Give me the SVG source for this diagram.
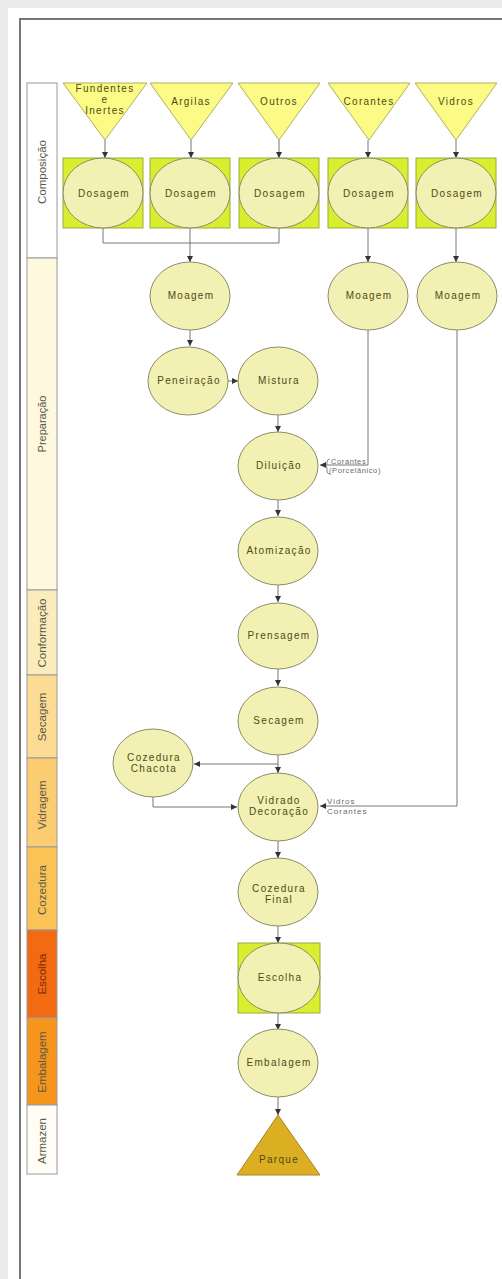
<svg xmlns="http://www.w3.org/2000/svg" width="502" height="1279" viewBox="0 0 502 1279">
  <defs>
    <marker id="arr" viewBox="0 0 6 6" refX="6" refY="3" markerWidth="6" markerHeight="6" orient="auto" markerUnits="userSpaceOnUse">
      <path d="M0,0 L6,3 L0,6 z" fill="#333"/>
    </marker>
  </defs>
  <style>
    .lane{stroke:#9a9a9a;stroke-width:1}
    .lanetxt{font-family:"Liberation Sans",Arial,sans-serif;font-size:11.5px;fill:#5a5a4a;text-anchor:middle}
    .src{fill:#fbfb86;stroke:#b0b060;stroke-width:1}
    .box{fill:#d9ee2e;stroke:#9aaa40;stroke-width:1}
    .proc{fill:#f2f0b2;stroke:#8c8c6a;stroke-width:1}
    .end{fill:#dcae22;stroke:#a8842a;stroke-width:1}
    .lbl{font-family:"Liberation Sans",Arial,sans-serif;font-size:10px;letter-spacing:1.3px;fill:#4c4c16;text-anchor:middle}
    .note{font-family:"Liberation Sans",Arial,sans-serif;font-size:7.5px;letter-spacing:0.6px;fill:#6a6a6a}
    .con{fill:none;stroke:#777;stroke-width:1}
  </style>

  <!-- page background and frame -->
  <rect x="0" y="0" width="502" height="1279" fill="#ececec"/>
  <rect x="8" y="8" width="494" height="1271" fill="#fff"/>
  <path d="M20,1279 V19 H502" fill="none" stroke="#777" stroke-width="2"/>

  <!-- stage lanes -->
  <g id="lanes">
    <rect class="lane" x="27" y="83" width="30" height="175" fill="#ffffff"/>
    <rect class="lane" x="27" y="258" width="30" height="332" fill="#fdf8de"/>
    <rect class="lane" x="27" y="590" width="30" height="85" fill="#fbecbc"/>
    <rect class="lane" x="27" y="675" width="30" height="83" fill="#fcdc94"/>
    <rect class="lane" x="27" y="758" width="30" height="89" fill="#fbcc72"/>
    <rect class="lane" x="27" y="847" width="30" height="83" fill="#f9c455"/>
    <rect class="lane" x="27" y="930" width="30" height="88" fill="#f26b12"/>
    <rect class="lane" x="27" y="1018" width="30" height="87" fill="#f6951c"/>
    <rect class="lane" x="27" y="1105" width="30" height="69" fill="#fffdf6"/>
    <text class="lanetxt" transform="translate(46,172) rotate(-90)">Composição</text>
    <text class="lanetxt" transform="translate(46,424) rotate(-90)" style="font-size:11px">Preparação</text>
    <text class="lanetxt" transform="translate(46,633) rotate(-90)">Conformação</text>
    <text class="lanetxt" transform="translate(46,717) rotate(-90)">Secagem</text>
    <text class="lanetxt" transform="translate(46,805) rotate(-90)">Vidragem</text>
    <text class="lanetxt" transform="translate(46,890) rotate(-90)">Cozedura</text>
    <text class="lanetxt" transform="translate(46,974) rotate(-90)" style="fill:#7a2a08">Escolha</text>
    <text class="lanetxt" transform="translate(46,1062) rotate(-90)">Embalagem</text>
    <text class="lanetxt" transform="translate(46,1141) rotate(-90)">Armazen</text>
  </g>

  <!-- connectors -->
  <g id="connectors">
    <line class="con" x1="105" y1="140" x2="105" y2="158" marker-end="url(#arr)"/>
    <line class="con" x1="191" y1="140" x2="191" y2="158" marker-end="url(#arr)"/>
    <line class="con" x1="279" y1="140" x2="279" y2="158" marker-end="url(#arr)"/>
    <line class="con" x1="368" y1="140" x2="368" y2="158" marker-end="url(#arr)"/>
    <line class="con" x1="456" y1="140" x2="456" y2="158" marker-end="url(#arr)"/>
    <polyline class="con" points="103,228 103,243 279,243 279,228"/>
    <line class="con" x1="190" y1="228" x2="190" y2="262" marker-end="url(#arr)"/>
    <line class="con" x1="368" y1="228" x2="368" y2="262" marker-end="url(#arr)"/>
    <line class="con" x1="456" y1="228" x2="456" y2="262" marker-end="url(#arr)"/>
    <line class="con" x1="190" y1="329" x2="190" y2="346" marker-end="url(#arr)"/>
    <line class="con" x1="228" y1="381" x2="238" y2="381" marker-end="url(#arr)"/>
    <line class="con" x1="278" y1="414" x2="278" y2="432" marker-end="url(#arr)"/>
    <polyline class="con" points="368,329 368,465 320,465" marker-end="url(#arr)"/>
    <line class="con" x1="278" y1="499" x2="278" y2="516" marker-end="url(#arr)"/>
    <line class="con" x1="278" y1="585" x2="278" y2="602" marker-end="url(#arr)"/>
    <line class="con" x1="278" y1="668" x2="278" y2="686" marker-end="url(#arr)"/>
    <line class="con" x1="278" y1="755" x2="278" y2="773" marker-end="url(#arr)"/>
    <polyline class="con" points="278,764 194,764" marker-end="url(#arr)"/>
    <polyline class="con" points="153,797 153,807 237,807" marker-end="url(#arr)"/>
    <polyline class="con" points="457,329 457,806 320,806" marker-end="url(#arr)"/>
    <line class="con" x1="278" y1="840" x2="278" y2="858" marker-end="url(#arr)"/>
    <line class="con" x1="278" y1="926" x2="278" y2="943" marker-end="url(#arr)"/>
    <line class="con" x1="278" y1="1013" x2="278" y2="1030" marker-end="url(#arr)"/>
    <line class="con" x1="278" y1="1097" x2="278" y2="1115" marker-end="url(#arr)"/>
    <path d="M330,459 Q327,459 327,462 L327,464 Q325,466 327,468 L327,471 Q327,474 330,474" fill="none" stroke="#8a86b8" stroke-width="1"/>
    <text class="note" x="331" y="464">Corantes</text>
    <text class="note" x="329" y="473">(Porcelânico)</text>
    <text class="note" x="327" y="804" style="font-size:8px;letter-spacing:1px">Vidros</text>
    <text class="note" x="327" y="814" style="font-size:8px;letter-spacing:1px">Corantes</text>
  </g>

  <!-- raw material sources -->
  <g id="src-fundentes"><polygon class="src" points="63,83 147,83 105,140"/><text class="lbl" x="105" y="92">Fundentes</text><text class="lbl" x="105" y="103">e</text><text class="lbl" x="105" y="114">Inertes</text></g>
  <g id="src-argilas"><polygon class="src" points="150,83 233,83 191,140"/><text class="lbl" x="191" y="105">Argilas</text></g>
  <g id="src-outros"><polygon class="src" points="238,83 320,83 279,140"/><text class="lbl" x="279" y="105">Outros</text></g>
  <g id="src-corantes"><polygon class="src" points="328,83 410,83 369,140"/><text class="lbl" x="369" y="105">Corantes</text></g>
  <g id="src-vidros"><polygon class="src" points="415,83 497,83 456,140"/><text class="lbl" x="456" y="105">Vidros</text></g>

  <!-- dosing -->
  <g id="dos-1"><rect class="box" x="63" y="158" width="80" height="70"/><ellipse class="proc" cx="103" cy="193" rx="40" ry="35"/><text class="lbl" x="104" y="197">Dosagem</text></g>
  <g id="dos-2"><rect class="box" x="150" y="158" width="80" height="70"/><ellipse class="proc" cx="190" cy="193" rx="40" ry="35"/><text class="lbl" x="191" y="197">Dosagem</text></g>
  <g id="dos-3"><rect class="box" x="239" y="158" width="80" height="70"/><ellipse class="proc" cx="279" cy="193" rx="40" ry="35"/><text class="lbl" x="280" y="197">Dosagem</text></g>
  <g id="dos-4"><rect class="box" x="328" y="158" width="80" height="70"/><ellipse class="proc" cx="368" cy="193" rx="40" ry="35"/><text class="lbl" x="369" y="197">Dosagem</text></g>
  <g id="dos-5"><rect class="box" x="416" y="158" width="80" height="70"/><ellipse class="proc" cx="456" cy="193" rx="40" ry="35"/><text class="lbl" x="457" y="197">Dosagem</text></g>

  <!-- preparation -->
  <g id="moagem-1"><ellipse class="proc" cx="190" cy="296" rx="40" ry="34"/><text class="lbl" x="191" y="299">Moagem</text></g>
  <g id="moagem-2"><ellipse class="proc" cx="368" cy="296" rx="40" ry="34"/><text class="lbl" x="369" y="299">Moagem</text></g>
  <g id="moagem-3"><ellipse class="proc" cx="457" cy="296" rx="40" ry="34"/><text class="lbl" x="458" y="299">Moagem</text></g>
  <g id="peneiracao"><ellipse class="proc" cx="188" cy="381" rx="40" ry="34"/><text class="lbl" x="189" y="384">Peneiração</text></g>
  <g id="mistura"><ellipse class="proc" cx="278" cy="381" rx="40" ry="34"/><text class="lbl" x="279" y="384">Mistura</text></g>
  <g id="diluicao"><ellipse class="proc" cx="278" cy="466" rx="40" ry="34"/><text class="lbl" x="279" y="469">Diluição</text></g>
  <g id="atomizacao"><ellipse class="proc" cx="278" cy="551" rx="40" ry="34"/><text class="lbl" x="279" y="554">Atomização</text></g>

  <!-- forming, drying, glazing, firing -->
  <g id="prensagem"><ellipse class="proc" cx="278" cy="636" rx="40" ry="33"/><text class="lbl" x="279" y="639">Prensagem</text></g>
  <g id="secagem"><ellipse class="proc" cx="278" cy="721" rx="40" ry="34"/><text class="lbl" x="279" y="724">Secagem</text></g>
  <g id="chacota"><ellipse class="proc" cx="153" cy="763" rx="40" ry="34"/><text class="lbl" x="154" y="761">Cozedura</text><text class="lbl" x="154" y="772">Chacota</text></g>
  <g id="vidrado"><ellipse class="proc" cx="278" cy="807" rx="40" ry="34"/><text class="lbl" x="279" y="804">Vidrado</text><text class="lbl" x="279" y="815">Decoração</text></g>
  <g id="cozedura-final"><ellipse class="proc" cx="278" cy="892" rx="40" ry="34"/><text class="lbl" x="279" y="892">Cozedura</text><text class="lbl" x="279" y="903">Final</text></g>

  <!-- sorting, packing, storage -->
  <g id="escolha"><rect class="box" x="238" y="943" width="82" height="70"/><ellipse class="proc" cx="279" cy="978" rx="41" ry="35"/><text class="lbl" x="280" y="981">Escolha</text></g>
  <g id="embalagem"><ellipse class="proc" cx="278" cy="1063" rx="40" ry="34"/><text class="lbl" x="279" y="1066">Embalagem</text></g>
  <g id="parque"><polygon class="end" points="278,1115 320,1175 237,1175"/><text class="lbl" x="279" y="1163">Parque</text></g>
</svg>
